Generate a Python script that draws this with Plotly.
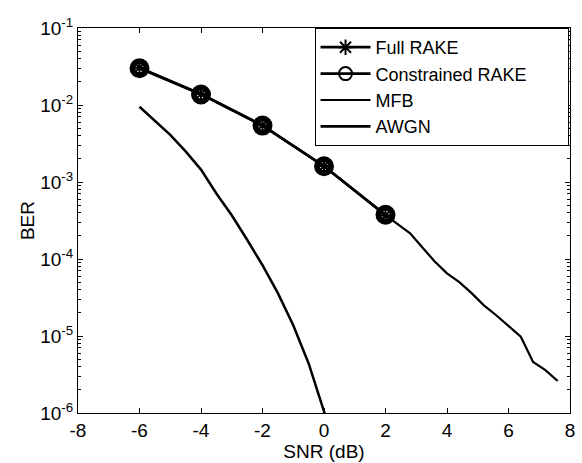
import plotly.graph_objects as go

# ---- data ----
rake_snr = [-6, -4, -2, 0, 2]
full_rake_ber = [3.05e-2, 1.39e-2, 5.45e-3, 1.61e-3, 3.7e-4]
constrained_rake_ber = [3.0e-2, 1.37e-2, 5.4e-3, 1.60e-3, 3.75e-4]

mfb_snr = [-6, -4, -2, 0, 2, 2.4, 2.8, 3.2, 3.6, 4.0, 4.4, 4.8, 5.2, 5.6, 6.0, 6.4, 6.8, 7.2, 7.6]
mfb_ber = [3.0e-2, 1.38e-2, 5.4e-3, 1.6e-3, 3.7e-4, 2.85e-4, 2.16e-4, 1.41e-4, 9.3e-5,
           6.5e-5, 5.0e-5, 3.6e-5, 2.5e-5, 1.86e-5, 1.35e-5, 9.8e-6, 4.6e-6, 3.6e-6, 2.6e-6]

awgn_snr = [-6, -5.5, -5, -4.5, -4, -3.5, -3, -2.5, -2, -1.5, -1, -0.5, 0, 0.5]
awgn_ber = [9.5e-3, 6.3e-3, 4.1e-3, 2.5e-3, 1.45e-3, 7.1e-4, 3.7e-4, 1.78e-4,
            8.3e-5, 3.6e-5, 1.38e-5, 4.4e-6, 1.1e-6, 2.5e-7]

x_ticks = [-8, -6, -4, -2, 0, 2, 4, 6, 8]
y_ticks = [1e-6, 1e-5, 1e-4, 1e-3, 1e-2, 1e-1]
y_tick_text = ["10<sup>-6</sup>", "10<sup>-5</sup>", "10<sup>-4</sup>",
               "10<sup>-3</sup>", "10<sup>-2</sup>", "10<sup>-1</sup>"]

FONT = "Liberation Sans, Arial, Helvetica, sans-serif"
PAD = "&nbsp;" * 7

fig = go.Figure()
fig.add_trace(go.Scatter(
    x=rake_snr, y=full_rake_ber, name="Full RAKE", mode="lines+markers",
    line=dict(color="black", width=2.5), showlegend=False, legendgroup="full",
    marker=dict(symbol="asterisk-open", size=12, color="black",
                line=dict(color="black", width=2)),
))
fig.add_trace(go.Scatter(
    x=rake_snr, y=constrained_rake_ber, name="Constrained RAKE", mode="lines+markers",
    line=dict(color="black", width=2.5), showlegend=False, legendgroup="con",
    marker=dict(symbol="circle-open", size=14, color="black",
                line=dict(color="black", width=6)),
))
fig.add_trace(go.Scatter(
    x=mfb_snr, y=mfb_ber, name="MFB", mode="lines", showlegend=False, legendgroup="mfb",
    line=dict(color="black", width=2.2),
))
fig.add_trace(go.Scatter(
    x=awgn_snr, y=awgn_ber, name="AWGN", mode="lines", showlegend=False, legendgroup="awgn",
    line=dict(color="black", width=2.5),
))

legend_specs = [
    ("Full RAKE", "full", "lines+markers", "asterisk-open", 2.8),
    ("Constrained RAKE" + PAD, "con", "lines+markers", "circle-open", 2.8),
    ("MFB", "mfb", "lines", None, 2.2),
    ("AWGN", "awgn", "lines", None, 2.8),
]
for name, grp, mode, sym, lw in legend_specs:
    kw = dict(x=[None], y=[None], name=name, mode=mode, legendgroup=grp,
              line=dict(color="black", width=lw), showlegend=True)
    if sym:
        kw["marker"] = dict(symbol=sym, size=13, color="black",
                            line=dict(color="black", width=2))
    fig.add_trace(go.Scatter(**kw))

fig.update_layout(
    width=582, height=463,
    margin=dict(l=78, r=12, t=28, b=50),
    paper_bgcolor="white", plot_bgcolor="rgba(0,0,0,0)",
    font=dict(family=FONT, size=19, color="black"),
    showlegend=True,
    legend=dict(
        x=0.997, y=1, xanchor="right", yanchor="top",
        bgcolor="white", bordercolor="black", borderwidth=1,
        font=dict(family=FONT, size=18, color="black"),
        itemwidth=50, tracegroupgap=0,
        itemclick=False, itemdoubleclick=False,
    ),
)
fig.update_xaxes(
    range=[-8, 8], tickmode="array", tickvals=x_ticks, ticktext=[str(v) for v in x_ticks],
    showgrid=False, zeroline=False, showline=True, linecolor="black", linewidth=1,
    mirror="allticks", ticks="inside", ticklen=5, tickwidth=1, tickcolor="black",
    tickfont=dict(family=FONT, size=19, color="black"), automargin=False,
    title=dict(text="SNR (dB)", font=dict(family=FONT, size=19), standoff=0),
)
fig.update_yaxes(
    type="log", range=[-6, -1], tickmode="array", tickvals=y_ticks, ticktext=y_tick_text,
    showgrid=False, zeroline=False, showline=True, linecolor="black", linewidth=1,
    mirror="allticks", ticks="inside", ticklen=5, tickwidth=1, tickcolor="black",
    minor=dict(ticks="inside", ticklen=3, tickwidth=1, tickcolor="black", dtick="D1", showgrid=False),
    tickfont=dict(family=FONT, size=19, color="black"), automargin=False,
    title=dict(text="BER", font=dict(family=FONT, size=19), standoff=0),
)

fig.write_html("out.html", config={"displayModeBar": False},
               post_script="document.body.style.margin='0';")
